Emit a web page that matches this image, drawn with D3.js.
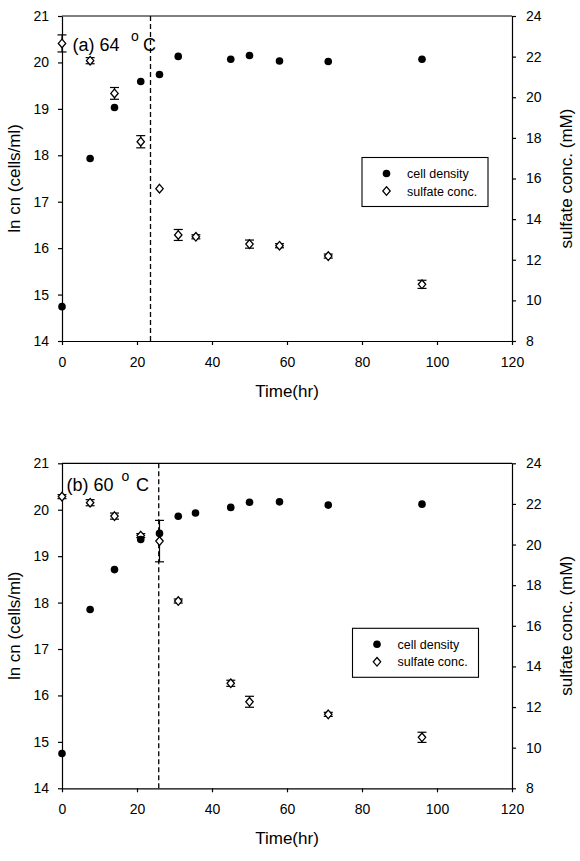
<!DOCTYPE html>
<html>
<head>
<meta charset="utf-8">
<script src="https://cdn.jsdelivr.net/npm/d3@7"></script>
<style>
body { margin: 0; background: #fff; }
text { font-family: "Liberation Sans", Arial, sans-serif; fill: #000; }
</style>
</head>
<body>
<div id="chart-area"></div>
<script>
// tick labels
const xTicks = [0, 20, 40, 60, 80, 100, 120]
const lnTicks = [14, 15, 16, 17, 18, 19, 20, 21]
const sulfTicks = [8, 10, 12, 14, 16, 18, 20, 22, 24]

// (a) 64 oC
const cellTimeA = [0, 7.5, 14, 21, 26, 31, 45, 50, 58, 71, 96]
const cellA = [14.74, 17.93, 19.03, 19.59, 19.74, 20.13, 20.07, 20.15, 20.03, 20.02, 20.07]
const sulfTimeA = [0, 7.5, 14, 21, 26, 31, 35.7, 50, 58, 71, 96]
const sulfA = [22.65, 21.8, 20.19, 17.81, 15.5, 13.22, 13.13, 12.77, 12.69, 12.18, 10.79]
const sulfErrA = [0.42, 0.15, 0.29, 0.3, 0, 0.27, 0.1, 0.2, 0.1, 0.1, 0.2]
const lagA = 23.6

// (b) 60 oC
const cellTimeB = [0, 7.5, 14, 21, 26, 31, 35.6, 45, 50, 58, 71, 96]
const cellB = [14.75, 17.85, 18.71, 19.36, 19.49, 19.86, 19.93, 20.05, 20.16, 20.17, 20.10, 20.12]
const sulfTimeB = [0, 7.5, 14, 21, 26, 31, 45, 50, 71, 96]
const sulfB = [22.36, 22.06, 21.4, 20.44, 20.17, 17.22, 13.17, 12.26, 11.64, 10.51]
const sulfErrB = [0.1, 0.15, 0.15, 0.1, 1.02, 0.1, 0.15, 0.27, 0.1, 0.25]
const lagB = 25.8

const LEFT = 62
const WIDTH = 450
const HEIGHT = 325

const svg = d3.select("#chart-area").append("svg")
  .attr("width", 580)
  .attr("height", 861)

// Scales
const x = d3.scaleLinear().domain([0, 120]).range([0, WIDTH])
const yLn = d3.scaleLinear().domain([14, 21]).range([HEIGHT, 0])
const ySulf = d3.scaleLinear().domain([8, 24]).range([HEIGHT, 0])

const diamond = {
  draw(ctx, size) {
    const w = 3.7, h = 4.3
    ctx.moveTo(0, -h)
    ctx.lineTo(w, 0)
    ctx.lineTo(0, h)
    ctx.lineTo(-w, 0)
    ctx.closePath()
  }
}
const diamondPath = d3.symbol().type(diamond)()

function styleAxis(sel) {
  sel.attr("font-size", 14)
    .attr("font-family", "'Liberation Sans', Arial, sans-serif")
  sel.selectAll("path, line").attr("stroke", "#000").attr("stroke-width", 1.2)
}

function drawPanel(top, p) {
  const g = svg.append("g")
    .attr("transform", `translate(${LEFT}, ${top})`)

  // Axes
  g.append("g")
    .attr("transform", `translate(0, ${HEIGHT})`)
    .call(d3.axisBottom(x).tickValues(xTicks).tickFormat(d3.format("d"))
      .tickSize(4).tickSizeOuter(0).tickPadding(12))
    .call(styleAxis)
  g.append("g")
    .call(d3.axisLeft(yLn).tickValues(lnTicks).tickFormat(d3.format("d"))
      .tickSize(4).tickSizeOuter(0).tickPadding(9))
    .call(styleAxis)
  g.append("g")
    .attr("transform", `translate(${WIDTH}, 0)`)
    .call(d3.axisRight(ySulf).tickValues(sulfTicks).tickFormat(d3.format("d"))
      .tickSize(4).tickSizeOuter(0).tickPadding(10))
    .call(styleAxis)
  g.append("line")
    .attr("x1", 0).attr("x2", WIDTH)
    .attr("y1", 0).attr("y2", 0)
    .attr("stroke", "#000").attr("stroke-width", 1.2)

  // Labels
  g.append("text")
    .attr("x", WIDTH / 2)
    .attr("y", HEIGHT + 56)
    .attr("font-size", "17px")
    .attr("text-anchor", "middle")
    .text("Time(hr)")
  g.append("text")
    .attr("transform", "rotate(-90)")
    .attr("x", -HEIGHT / 2)
    .attr("y", 19.5 - LEFT)
    .attr("font-size", "17px")
    .attr("text-anchor", "middle")
    .text("ln cn (cells/ml)")
  g.append("text")
    .attr("transform", "rotate(-90)")
    .attr("x", -HEIGHT / 2)
    .attr("y", 572 - LEFT)
    .attr("font-size", "17px")
    .attr("text-anchor", "middle")
    .text("sulfate conc. (mM)")

  // panel title with superscript
  const title = g.append("g")
  title.append("text")
    .attr("x", p.titleX[0]).attr("y", p.titleY)
    .attr("font-size", "18px")
    .text(p.title)
  title.append("text")
    .attr("x", p.titleX[1]).attr("y", p.titleY - 10)
    .attr("font-size", "14px")
    .text("o")
  title.append("text")
    .attr("x", p.titleX[2]).attr("y", p.titleY)
    .attr("font-size", "18px")
    .text("C")

  // lag phase divider
  g.append("line")
    .attr("x1", x(p.lag)).attr("x2", x(p.lag))
    .attr("y1", 0).attr("y2", HEIGHT)
    .attr("stroke", "#000")
    .attr("stroke-width", 1.3)
    .attr("stroke-dasharray", "5,3")

  const sulfData = p.sulfTime.map((t, i) => ({ t: t, v: p.sulf[i], e: p.sulfErr[i] }))
  const cellData = p.cellTime.map((t, i) => ({ t: t, v: p.cell[i] }))

  // error bars
  const eb = g.selectAll(".err").data(sulfData.filter(d => d.e > 0))
    .enter().append("g")
    .attr("class", "err")
    .attr("stroke", "#000")
    .attr("stroke-width", 1.2)
  eb.append("line")
    .attr("x1", d => x(d.t)).attr("x2", d => x(d.t))
    .attr("y1", d => ySulf(d.v - d.e)).attr("y2", d => ySulf(d.v + d.e))
  eb.append("line")
    .attr("x1", d => x(d.t) - 4.5).attr("x2", d => x(d.t) + 4.5)
    .attr("y1", d => ySulf(d.v - d.e)).attr("y2", d => ySulf(d.v - d.e))
  eb.append("line")
    .attr("x1", d => x(d.t) - 4.5).attr("x2", d => x(d.t) + 4.5)
    .attr("y1", d => ySulf(d.v + d.e)).attr("y2", d => ySulf(d.v + d.e))

  g.selectAll(".sulf").data(sulfData)
    .enter().append("path")
    .attr("class", "sulf")
    .attr("d", diamondPath)
    .attr("transform", d => `translate(${x(d.t)}, ${ySulf(d.v)})`)
    .attr("fill", "#fff")
    .attr("stroke", "#000")
    .attr("stroke-width", 1.3)

  g.selectAll(".cell").data(cellData)
    .enter().append("circle")
    .attr("class", "cell")
    .attr("cx", d => x(d.t))
    .attr("cy", d => yLn(d.v))
    .attr("r", 3.8)
    .attr("fill", "#000")

  // Legend
  const legend = g.append("g")
    .attr("transform", `translate(${p.legend[0]}, ${p.legend[1]})`)
  legend.append("rect")
    .attr("width", 126).attr("height", 49)
    .attr("fill", "#fff")
    .attr("stroke", "#000")
    .attr("stroke-width", 1.1)
  legend.append("circle")
    .attr("cx", 24.5).attr("cy", 16).attr("r", 3.8)
    .attr("fill", "#000")
  legend.append("path")
    .attr("d", diamondPath)
    .attr("transform", "translate(24.5, 33.5)")
    .attr("fill", "#fff").attr("stroke", "#000").attr("stroke-width", 1.3)
  legend.append("text")
    .attr("x", 45).attr("y", 20.5)
    .attr("font-size", "12.5px")
    .text("cell density")
  legend.append("text")
    .attr("x", 45).attr("y", 38)
    .attr("font-size", "12.5px")
    .text("sulfate conc.")
}

drawPanel(16, {
  cellTime: cellTimeA, cell: cellA,
  sulfTime: sulfTimeA, sulf: sulfA, sulfErr: sulfErrA,
  lag: lagA,
  title: "(a) 64", titleX: [10.5, 69, 81], titleY: 34.5,
  legend: [300, 141.5]
})

drawPanel(463.3, {
  cellTime: cellTimeB, cell: cellB,
  sulfTime: sulfTimeB, sulf: sulfB, sulfErr: sulfErrB,
  lag: lagB,
  title: "(b) 60", titleX: [4.5, 59.5, 74], titleY: 27.7,
  legend: [290.5, 165]
})
</script>
</body>
</html>
